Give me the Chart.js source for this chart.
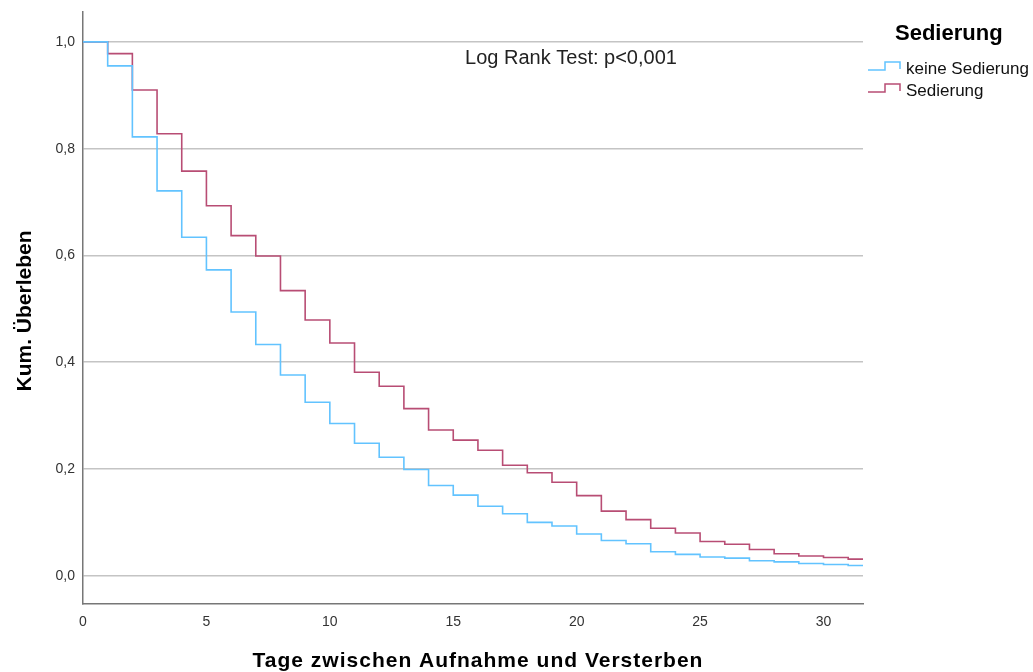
<!DOCTYPE html>
<html>
<head>
<meta charset="utf-8">
<script src="https://cdn.jsdelivr.net/npm/chart.js@4"></script>
<style>
  html, body { margin: 0; padding: 0; background: #fff; }
  #wrap { width: 1033px; height: 672px; position: relative; }
</style>
</head>
<body>
<div id="wrap"><canvas id="km"></canvas></div>
<script>
// Data
const days = [0, 1, 2, 3, 4, 5, 6, 7, 8, 9, 10, 11, 12, 13, 14, 15, 16, 17, 18, 19, 20,
              21, 22, 23, 24, 25, 26, 27, 28, 29, 30, 31];
const followUpEnd = 31.6;
const keineSedierung = [1.0, 0.955, 0.822, 0.721, 0.634, 0.573, 0.494, 0.433, 0.376, 0.325, 0.285,
                        0.248, 0.222, 0.199, 0.169, 0.151, 0.130, 0.116, 0.100, 0.093, 0.078,
                        0.066, 0.060, 0.045, 0.040, 0.035, 0.033, 0.028, 0.026, 0.023, 0.021, 0.019];
const sedierung = [1.0, 0.978, 0.910, 0.828, 0.758, 0.693, 0.637, 0.599, 0.534, 0.479, 0.436,
                   0.381, 0.355, 0.313, 0.273, 0.254, 0.235, 0.207, 0.193, 0.175, 0.150,
                   0.121, 0.105, 0.089, 0.080, 0.064, 0.059, 0.049, 0.041, 0.037, 0.034, 0.031];
const xTicks = [0, 5, 10, 15, 20, 25, 30];
const yTicks = [0, 0.2, 0.4, 0.6, 0.8, 1.0];
const groupNames = ['keine Sedierung', 'Sedierung'];
const groupColors = ['#62c3ff', '#b84d74'];

function toPoints(values) {
    const pts = days.map((d, i) => ({ x: d, y: values[i] }));
    pts.push({ x: followUpEnd, y: values[values.length - 1] });
    return pts;
}

const fontFamily = '"Liberation Sans", Arial, sans-serif';

// Titles, annotation and legend drawn on the canvas
const decorations = {
    id: 'decorations',
    afterDraw(chart) {
        const ctx = chart.ctx;
        ctx.save();
        ctx.fillStyle = '#000';
        ctx.textBaseline = 'middle';

        // axis titles
        ctx.font = 'bold 21px ' + fontFamily;
        ctx.textAlign = 'center';
        ctx.letterSpacing = '1px';
        ctx.fillText('Tage zwischen Aufnahme und Versterben', 478, 661);
        ctx.letterSpacing = '0px';
        ctx.save();
        ctx.translate(25, 311);
        ctx.rotate(-Math.PI / 2);
        ctx.fillText('Kum. Überleben', 0, 0);
        ctx.restore();

        // test result
        ctx.font = '20px ' + fontFamily;
        ctx.fillStyle = '#222';
        ctx.fillText('Log Rank Test: p<0,001', 571, 58);

        // legend
        ctx.fillStyle = '#000';
        ctx.font = 'bold 22px ' + fontFamily;
        ctx.textAlign = 'left';
        ctx.fillText('Sedierung', 895, 34);
        ctx.font = '17px ' + fontFamily;
        groupNames.forEach((name, i) => {
            const y = 69 + i * 22;
            ctx.strokeStyle = groupColors[i];
            ctx.lineWidth = 1.5;
            ctx.beginPath();
            ctx.moveTo(868, y + 1);
            ctx.lineTo(885, y + 1);
            ctx.lineTo(885, y - 7);
            ctx.lineTo(900, y - 7);
            ctx.lineTo(900, y);
            ctx.stroke();
            ctx.fillStyle = '#111';
            ctx.fillText(name, 906, y);
        });
        ctx.restore();
    }
};

new Chart(document.getElementById('km'), {
    type: 'line',
    data: {
        datasets: [
            {
                label: groupNames[0],
                data: toPoints(keineSedierung),
                borderColor: groupColors[0],
                borderWidth: 1.6,
                stepped: 'before',
                pointRadius: 0,
                fill: false
            },
            {
                label: groupNames[1],
                data: toPoints(sedierung),
                borderColor: groupColors[1],
                borderWidth: 1.6,
                stepped: 'before',
                pointRadius: 0,
                fill: false
            }
        ]
    },
    options: {
        responsive: true,
        maintainAspectRatio: false,
        animation: false,
        layout: { padding: { left: 0, top: 12, right: 170, bottom: 0 } },
        plugins: {
            legend: { display: false },
            tooltip: { enabled: false }
        },
        scales: {
            x: {
                type: 'linear',
                min: 0,
                max: followUpEnd,
                afterBuildTicks: scale => { scale.ticks = xTicks.map(v => ({ value: v })); },
                afterFit: scale => {
                    scale.height = 68;
                    scale.paddingLeft = 0;
                    scale.paddingRight = 0;
                },
                grid: { display: false, drawTicks: false },
                border: { display: true, color: '#777', width: 1.5 },
                ticks: {
                    padding: 10,
                    color: '#333',
                    font: { family: fontFamily, size: 14 },
                    maxRotation: 0,
                    callback: v => String(v)
                }
            },
            y: {
                type: 'linear',
                min: -0.053,
                max: 1.056,
                afterBuildTicks: scale => { scale.ticks = yTicks.map(v => ({ value: v })); },
                afterFit: scale => {
                    scale.width = 83;
                    scale.paddingTop = 0;
                    scale.paddingBottom = 0;
                },
                grid: { color: '#c4c4c4', lineWidth: 1.5, drawTicks: false },
                border: { display: true, color: '#777', width: 1.5 },
                ticks: {
                    padding: 8,
                    color: '#333',
                    font: { family: fontFamily, size: 14 },
                    callback: v => v.toFixed(1).replace('.', ',')
                }
            }
        }
    },
    plugins: [decorations]
});
</script>
</body>
</html>
